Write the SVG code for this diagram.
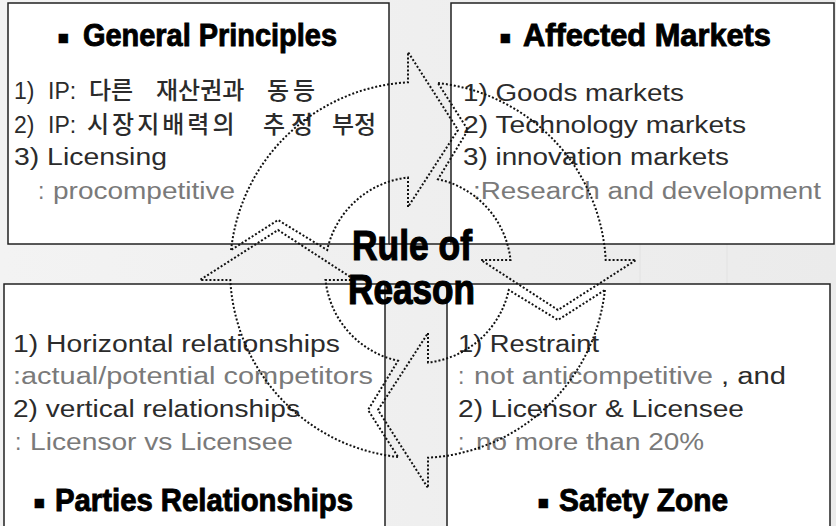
<svg xmlns="http://www.w3.org/2000/svg" width="836" height="526" viewBox="0 0 836 526">
<defs>
  <linearGradient id="bg" x1="0" y1="0" x2="1" y2="0">
    <stop offset="0" stop-color="#f3f3f3"/>
    <stop offset="1" stop-color="#ebebeb"/>
  </linearGradient>
  <path id="cyc" d="M -186.9 -20 A 188 188 0 0 1 -10 -187.7 L -10 -218 L 40 -140 L -10 -63 L -10 -92.5 A 93 93 0 0 0 -90.8 -20 L -140 -50 Z"/>
  <style>
    .box{fill:#ffffff;stroke:#222222;stroke-width:1.5}
    .ttl{font-family:"Liberation Sans Narrow","Liberation Sans",sans-serif;font-weight:bold;font-size:31px;fill:#000000;stroke:#000000;stroke-width:0.9}
    .bul{font-family:"DejaVu Sans",sans-serif;font-weight:normal;font-size:18px;stroke-width:0.5}
    .t{font-family:"Liberation Sans","Noto Sans CJK KR",sans-serif;font-size:23px;fill:#2b2b2b}
    .g{fill:#7a7a7a}
    .k{font-family:"Noto Sans CJK KR",sans-serif;font-size:24px;font-weight:500}
    .arr{fill:none;stroke:#111111;stroke-width:2;stroke-dasharray:2 2}
    .ctr{font-family:"Liberation Sans Narrow","Liberation Sans",sans-serif;font-weight:bold;font-size:43px;fill:#000000;stroke:#000000;stroke-width:1.2}
  </style>
</defs>

<g id="background">
  <rect x="0" y="0" width="836" height="526" fill="url(#bg)"/>
  <line x1="640" y1="244" x2="640" y2="284" stroke="#e2e2e2" stroke-width="1"/>
  <line x1="727" y1="244" x2="727" y2="284" stroke="#e2e2e2" stroke-width="1"/>
  <line x1="389" y1="244" x2="451" y2="244" stroke="#222222" stroke-width="1.5"/>
  <line x1="385" y1="284" x2="447" y2="284" stroke="#222222" stroke-width="1.5"/>
</g>

<g id="general-principles">
  <rect class="box" x="8" y="3" width="381" height="241"/>
  <text class="ttl" y="46"><tspan class="bul" x="57" dy="-3">▪ </tspan><tspan x="83" dy="3" textLength="254" lengthAdjust="spacingAndGlyphs">General Principles</tspan></text>
  <text class="t" y="99"><tspan x="14">1) </tspan><tspan x="48">IP: </tspan><tspan class="k" x="89">다른 </tspan><tspan class="k" x="156">재산권과 </tspan><tspan class="k" x="267" letter-spacing="4">동등</tspan></text>
  <text class="t" y="133"><tspan x="14">2) </tspan><tspan x="48">IP: </tspan><tspan class="k" x="87" letter-spacing="3">시장지배력의 </tspan><tspan class="k" x="263" letter-spacing="6">추정 </tspan><tspan class="k" x="332">부정</tspan></text>
  <text class="t" x="14" y="165" textLength="153" lengthAdjust="spacingAndGlyphs">3) Licensing</text>
  <text class="t g" y="199"><tspan x="38">: </tspan><tspan x="53" textLength="182" lengthAdjust="spacingAndGlyphs">procompetitive</tspan></text>
</g>

<g id="affected-markets">
  <rect class="box" x="451" y="3" width="383" height="241"/>
  <text class="ttl" y="46"><tspan class="bul" x="499" dy="-3">▪ </tspan><tspan x="523" dy="3" textLength="248" lengthAdjust="spacingAndGlyphs">Affected Markets</tspan></text>
  <text class="t" x="463" y="101" textLength="221" lengthAdjust="spacingAndGlyphs">1) Goods markets</text>
  <text class="t" x="463" y="133" textLength="283" lengthAdjust="spacingAndGlyphs">2) Technology markets</text>
  <text class="t" x="463" y="165" textLength="266" lengthAdjust="spacingAndGlyphs">3) innovation markets</text>
  <text class="t g" x="473" y="199" textLength="348" lengthAdjust="spacingAndGlyphs">:Research and development</text>
</g>

<g id="parties-relationships">
  <rect class="box" x="4" y="284" width="381" height="250"/>
  <text class="t" x="13" y="352" textLength="327" lengthAdjust="spacingAndGlyphs">1) Horizontal relationships</text>
  <text class="t g" x="13" y="384" textLength="360" lengthAdjust="spacingAndGlyphs">:actual/potential competitors</text>
  <text class="t" x="13" y="417" textLength="287" lengthAdjust="spacingAndGlyphs">2) vertical relationships</text>
  <text class="t g" y="450"><tspan x="15">: </tspan><tspan x="30" textLength="263" lengthAdjust="spacingAndGlyphs">Licensor vs Licensee</tspan></text>
  <text class="ttl" y="511"><tspan class="bul" x="33" dy="-3">▪ </tspan><tspan x="55" dy="3" textLength="298" lengthAdjust="spacingAndGlyphs">Parties Relationships</tspan></text>
</g>

<g id="safety-zone">
  <rect class="box" x="447" y="284" width="383" height="250"/>
  <text class="t" x="458" y="352" textLength="141" lengthAdjust="spacingAndGlyphs">1) Restraint</text>
  <text class="t" y="384"><tspan class="g" x="458">: </tspan><tspan class="g" x="474" textLength="239" lengthAdjust="spacingAndGlyphs">not anticompetitive</tspan><tspan x="713" textLength="73" lengthAdjust="spacingAndGlyphs"> , and</tspan></text>
  <text class="t" x="458" y="417" textLength="286" lengthAdjust="spacingAndGlyphs">2) Licensor &amp; Licensee</text>
  <text class="t g" y="450"><tspan x="458">: </tspan><tspan x="476" textLength="228" lengthAdjust="spacingAndGlyphs">no more than 20%</tspan></text>
  <text class="ttl" y="511"><tspan class="bul" x="537" dy="-3">▪ </tspan><tspan x="559" dy="3" textLength="169" lengthAdjust="spacingAndGlyphs">Safety Zone</tspan></text>
</g>

<g id="connectors">
  <use href="#cyc" class="arr" transform="translate(418 270)"/>
  <use href="#cyc" class="arr" transform="translate(418 270) rotate(90)"/>
  <use href="#cyc" class="arr" transform="translate(418 270) rotate(180)"/>
  <use href="#cyc" class="arr" transform="translate(418 270) rotate(270)"/>
</g>

<g id="rule-of-reason">
  <text class="ctr" x="352" y="260" textLength="120" lengthAdjust="spacingAndGlyphs">Rule of</text>
  <text class="ctr" x="348" y="304" textLength="127" lengthAdjust="spacingAndGlyphs">Reason</text>
</g>
</svg>
